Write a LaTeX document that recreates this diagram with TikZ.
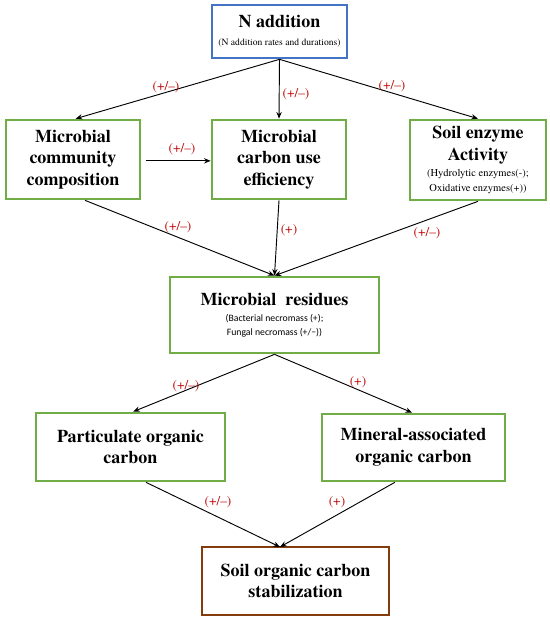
\documentclass[tikz,border=0pt]{standalone}
\usepackage{fontspec}
\setmainfont{texgyretermes}[Extension=.otf, UprightFont=*-regular, BoldFont=*-bold, ItalicFont=*-italic, BoldItalicFont=*-bolditalic]
\newfontfamily\calibri{Carlito}
\usetikzlibrary{arrows.meta}

\definecolor{boxgreen}{HTML}{70AD47}
\definecolor{boxblue}{HTML}{4472C4}
\definecolor{boxbrown}{HTML}{843C0C}
\definecolor{signred}{HTML}{C00000}

\newcommand{\smalltimes}{\fontsize{7.9}{10.5}\selectfont\mdseries}
\newcommand{\smallcal}{\calibri\fontsize{7.3}{9.5}\selectfont\mdseries}

\tikzset{
  box/.style={draw=boxgreen, line width=2pt, fill=white, align=center, inner sep=0pt,
    font=\fontsize{13.5}{16.3}\selectfont\bfseries},
  sign/.style={text=signred, inner sep=0pt, font=\fontsize{10}{12}\selectfont},
  link/.style={-{Stealth[length=5pt,width=4pt]}, line width=0.7pt},
}

\begin{document}
\begin{tikzpicture}[x=0.75pt, y=-0.75pt]
  \useasboundingbox (0,0) rectangle (550,626);

  \node [box, draw=boxblue, minimum width=101.25pt, minimum height=39.75pt] (nadd) at (279.5,31.5)
    {N addition\\[-3pt]{\fontsize{7.2}{9}\selectfont\mdseries (N addition rates and durations)}};
  \node [box, minimum width=100.5pt, minimum height=59.25pt] (comp) at (73,159.5)
    {Microbial\\community\\composition};
  \node [box, minimum width=100.5pt, minimum height=59.25pt] (cue) at (279,159.5)
    {Microbial\\carbon use\\efficiency};
  \node [box, minimum width=102pt, minimum height=60pt] (enz) at (478,160)
    {Soil enzyme\\Activity\\[-4pt]{\smalltimes (Hydrolytic enzymes(-);}\\[-5pt]{\smalltimes Oxidative enzymes(+))}};
  \node [box, minimum width=156.75pt, minimum height=57pt] (res) at (274.5,315)
    {Microbial\ \ residues\\[-4pt]{\smallcal (Bacterial necromass (+);}\\[-6pt]{\smallcal Fungal necromass (+/\textminus))}};
  \node [box, minimum width=141.75pt, minimum height=51pt] (poc) at (130.5,447)
    {Particulate organic\\carbon};
  \node [box, minimum width=137.25pt, minimum height=50.25pt] (maoc) at (413.5,447.5)
    {Mineral-associated\\organic carbon};
  \node [box, draw=boxbrown, minimum width=140.25pt, minimum height=51pt] (soc) at (295.5,581)
    {Soil organic carbon\\stabilization};

  \coordinate (socin) at (280,547);

  % N addition effects
  \draw [link] (nadd.south) -- ([xshift=2pt]comp.north);
  \draw [link] (nadd.south) -- (cue.north);
  \draw [link] (nadd.south) -- (enz.north);
  \draw [link] ([xshift=3.75pt,yshift=-1pt]comp.east) -- ([yshift=-1pt]cue.west);

  % into residues
  \draw [link] ([xshift=9pt]comp.south) -- (res.north);
  \draw [link] (cue.south) -- (res.north);
  \draw [link] (enz.south) -- (res.north);

  % residues to carbon pools
  \draw [link] (res.south) -- ([xshift=2pt]poc.north);
  \draw [link] (res.south) -- ([xshift=-1pt]maoc.north);
  \draw [link] ([xshift=11.6pt]poc.south) -- (socin);
  \draw [link] ([xshift=-14pt]maoc.south) -- (socin);

  \node [sign] (s1) at (166,87) {(+/\textendash)};
  \node [sign] (s2) at (296,94) {(+/\textendash)};
  \node [sign] (s3) at (392,86) {(+/\textendash)};
  \node [sign] (s4) at (182,149) {(+/\textendash)};
  \node [sign] (s5) at (178,227) {(+/\textendash)};
  \node [sign] (s6) at (289,230) {(+)};
  \node [sign] (s7) at (427,233) {(+/\textendash)};
  \node [sign] (s8) at (186,386) {(+/\textendash)};
  \node [sign] (s9) at (358,382) {(+)};
  \node [sign] (s10) at (218,502) {(+/\textendash)};
  \node [sign] (s11) at (337,502) {(+)};
\end{tikzpicture}
\end{document}
